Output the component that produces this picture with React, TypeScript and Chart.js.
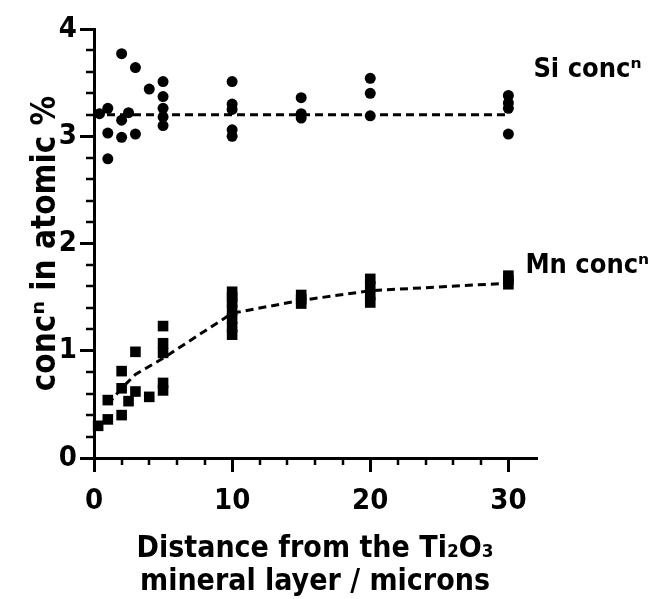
import React, { useEffect, useRef } from "react";
import { Chart, registerables } from "chart.js";

Chart.register(...registerables);

// Si concentration (circles)
const siX = [0.4, 1, 1, 1, 2, 2, 2, 2.5, 3, 3, 4, 5, 5, 5, 5, 5, 10, 10, 10, 10, 10, 15, 15, 15, 20, 20, 20, 30, 30, 30, 30];
const siY = [3.21, 3.26, 3.03, 2.79, 3.77, 3.15, 2.99, 3.22, 3.64, 3.02, 3.44, 3.51, 3.37, 3.26, 3.18, 3.1, 3.51, 3.3, 3.25, 3.06, 3.0, 3.36, 3.21, 3.17, 3.54, 3.4, 3.19, 3.38, 3.31, 3.26, 3.02];

// Mn concentration (squares)
const mnX = [0.3, 1, 1, 2, 2, 2, 2.5, 3, 3, 4, 5, 5, 5, 5, 5, 10, 10, 10, 10, 10, 10, 10, 15, 15, 15, 20, 20, 20, 20, 30, 30, 30];
const mnY = [0.3, 0.36, 0.54, 0.4, 0.65, 0.81, 0.53, 0.62, 0.99, 0.57, 1.23, 1.07, 0.98, 0.7, 0.63, 1.55, 1.5, 1.45, 1.38, 1.3, 1.22, 1.15, 1.52, 1.48, 1.44, 1.67, 1.6, 1.52, 1.45, 1.7, 1.66, 1.62];

// Fitted trend lines (dashed)
const siFitX = [0, 30];
const siFitY = [3.2, 3.2];
const mnFitX = [1, 2, 3, 5, 10, 15, 20, 30];
const mnFitY = [0.5, 0.65, 0.78, 0.93, 1.35, 1.47, 1.56, 1.63];

// Axis ticks
const xMajorTicks = [0, 10, 20, 30];
const xMinorTicks = [2, 4, 6, 8, 12, 14, 16, 18, 22, 24, 26, 28];
const yMajorTicks = [0, 1, 2, 3, 4];
const yMinorTicks = [0.2, 0.4, 0.6, 0.8, 1.2, 1.4, 1.6, 1.8, 2.2, 2.4, 2.6, 2.8, 3.2, 3.4, 3.6, 3.8];

const xTitle = ["Distance from the Ti\u2082O\u2083", "mineral layer / microns"];
const yTitle = "conc\u207F in atomic %";
const siLabel = "Si conc\u207F";
const mnLabel = "Mn conc\u207F";

const FAMILY = "'DejaVu Sans Condensed', 'DejaVu Sans', sans-serif";

const toPts = (xs: number[], ys: number[]) => xs.map((x, i) => ({ x, y: ys[i] }));

const extrasPlugin = {
  id: "extras",
  afterDraw(chart: any) {
    const { ctx, chartArea, scales } = chart;
    const xs = scales.x;
    const ys = scales.y;
    ctx.save();
    ctx.strokeStyle = "#000";
    ctx.lineWidth = 2.5;
    ctx.beginPath();
    xMinorTicks.forEach((v) => {
      const px = Math.round(xs.getPixelForValue(v));
      ctx.moveTo(px, chartArea.bottom);
      ctx.lineTo(px, chartArea.bottom + 7);
    });
    yMinorTicks.forEach((v) => {
      const py = Math.round(ys.getPixelForValue(v));
      ctx.moveTo(chartArea.left, py);
      ctx.lineTo(chartArea.left - 8, py);
    });
    ctx.stroke();

    ctx.fillStyle = "#000";
    ctx.font = `bold 27px ${FAMILY}`;
    ctx.textAlign = "left";
    ctx.textBaseline = "alphabetic";
    const siEndX = xs.getPixelForValue(siFitX[siFitX.length - 1]);
    const siEndY = ys.getPixelForValue(siFitY[siFitY.length - 1]);
    ctx.fillText(siLabel, siEndX + 25, siEndY - 38);
    const mnEndX = xs.getPixelForValue(mnFitX[mnFitX.length - 1]);
    const mnEndY = ys.getPixelForValue(mnFitY[mnFitY.length - 1]);
    ctx.fillText(mnLabel, mnEndX + 17, mnEndY - 10);
    ctx.restore();
  },
};

export default function App() {
  const ref = useRef<HTMLCanvasElement | null>(null);

  useEffect(() => {
    if (!ref.current) return;
    const chart = new Chart(ref.current, {
      type: "scatter",
      data: {
        datasets: [
          {
            label: "Si fit",
            data: toPts(siFitX, siFitY),
            showLine: true,
            borderColor: "#000",
            borderWidth: 3,
            borderDash: [8, 5],
            pointRadius: 0,
            clip: false,
          } as any,
          {
            label: "Mn fit",
            data: toPts(mnFitX, mnFitY),
            showLine: true,
            borderColor: "#000",
            borderWidth: 3,
            borderDash: [8, 5],
            pointRadius: 0,
            clip: false,
          } as any,
          {
            label: "Si",
            data: toPts(siX, siY),
            pointStyle: "circle",
            pointRadius: 5.5,
            backgroundColor: "#000",
            borderWidth: 0,
            clip: false,
          } as any,
          {
            label: "Mn",
            data: toPts(mnX, mnY),
            pointStyle: "rect",
            pointRadius: 7.5,
            backgroundColor: "#000",
            borderWidth: 0,
            clip: false,
          } as any,
        ],
      },
      options: {
        animation: false,
        responsive: false,
        events: [],
        layout: { padding: { left: 0, top: 29, right: 113, bottom: 0 } },
        plugins: { legend: { display: false }, tooltip: { enabled: false } },
        scales: {
          x: {
            type: "linear",
            min: 0,
            max: 32,
            afterBuildTicks: (scale: any) => {
              scale.ticks = xMajorTicks.map((v) => ({ value: v }));
            },
            afterFit: (scale: any) => {
              scale.height = 141;
            },
            ticks: {
              autoSkip: false,
              maxRotation: 0,
              padding: 12,
              color: "#000",
              font: { family: FAMILY, size: 29, weight: "bold" },
              callback: (v: any) => String(v),
            },
            grid: {
              display: true,
              drawOnChartArea: false,
              drawTicks: true,
              tickLength: 14,
              lineWidth: 3,
              color: "#000",
            },
            border: { display: true, color: "#000", width: 3 },
            title: {
              display: true,
              text: xTitle,
              color: "#000",
              font: { family: FAMILY, size: 30, weight: "bold", lineHeight: "33px" },
              padding: { top: 0, bottom: 0 },
            },
          },
          y: {
            type: "linear",
            min: 0,
            max: 4,
            afterBuildTicks: (scale: any) => {
              scale.ticks = yMajorTicks.map((v) => ({ value: v }));
            },
            afterFit: (scale: any) => {
              scale.width = 94;
            },
            ticks: {
              autoSkip: false,
              padding: 3,
              color: "#000",
              font: { family: FAMILY, size: 29, weight: "bold" },
              callback: (v: any) => String(v),
            },
            grid: {
              display: true,
              drawOnChartArea: false,
              drawTicks: true,
              tickLength: 14,
              lineWidth: 3,
              color: "#000",
            },
            border: { display: true, color: "#000", width: 3 },
            title: {
              display: true,
              text: yTitle,
              color: "#000",
              font: { family: FAMILY, size: 33, weight: "bold", lineHeight: "38px" },
              padding: { top: 27, bottom: 0 },
            },
          },
        },
      } as any,
      plugins: [extrasPlugin],
    });
    return () => chart.destroy();
  }, []);

  return (
    <div style={{ position: "absolute", left: 0, top: 0, width: 649, height: 599, background: "#fff" }}>
      <canvas ref={ref} width={649} height={599} style={{ display: "block" }} />
    </div>
  );
}
